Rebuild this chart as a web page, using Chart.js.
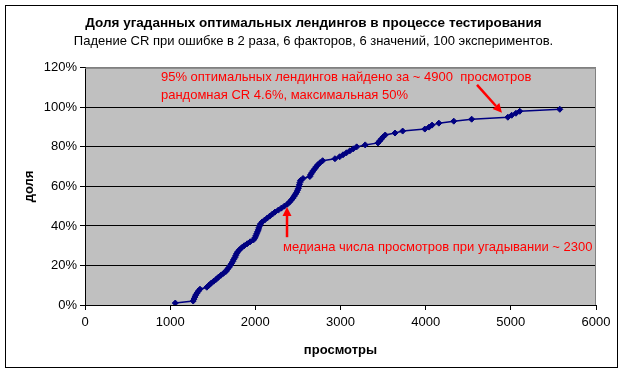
<!DOCTYPE html>
<html>
<head>
<meta charset="utf-8">
<script src="https://cdn.jsdelivr.net/npm/chart.js@4"></script>
<style>
    body { margin: 0; background: #fff; }
    #wrap { width: 627px; height: 375px; }
</style>
</head>
<body>
<div id="wrap"><canvas id="chart" width="627" height="375"></canvas></div>
<script>
// число просмотров, при котором угадан оптимальный лендинг (по экспериментам)
const views = [
    1060, 1270, 1280, 1290, 1300, 1315, 1330, 1350, 1430, 1455,
    1480, 1510, 1540, 1565, 1595, 1625, 1655, 1670, 1690, 1705,
    1720, 1735, 1745, 1760, 1770, 1780, 1795, 1815, 1840, 1870,
    1905, 1940, 1980, 1995, 2005, 2015, 2025, 2035, 2040, 2050,
    2060, 2080, 2110, 2140, 2170, 2200, 2230, 2270, 2305, 2340,
    2375, 2400, 2420, 2440, 2455, 2470, 2485, 2495, 2505, 2512,
    2518, 2524, 2530, 2560, 2640, 2650, 2665, 2680, 2700, 2715,
    2735, 2760, 2790, 2935, 2990, 3030, 3070, 3110, 3150, 3190,
    3290, 3440, 3460, 3480, 3500, 3525, 3640, 3730, 3990, 4040,
    4075, 4155, 4330, 4540, 4965, 5010, 5060, 5105, 5575
];
// доля угаданных, %
const share = [
    1, 2, 3, 4, 5, 6, 7, 8, 9, 10,
    11, 12, 13, 14, 15, 16, 17, 18, 19, 20,
    21, 22, 23, 24, 25, 26, 27, 28, 29, 30,
    31, 32, 33, 34, 35, 36, 37, 38, 39, 40,
    41, 42, 43, 44, 45, 46, 47, 48, 49, 50,
    51, 52, 53, 54, 55, 56, 57, 58, 59, 60,
    61, 62, 63, 64, 65, 66, 67, 68, 69, 70,
    71, 72, 73, 74, 75, 76, 77, 78, 79, 80,
    81, 82, 83, 84, 85, 86, 87, 88, 89, 90,
    91, 92, 93, 94, 95, 96, 97, 98, 99
];
const xTicks = [0, 1000, 2000, 3000, 4000, 5000, 6000];
const yTicks = [0, 20, 40, 60, 80, 100, 120];

const titleText = "Доля угаданных оптимальных лендингов в процессе тестирования";
const subtitleText = "Падение CR при ошибке в 2 раза, 6 факторов, 6 значений, 100 экспериментов.";

// подписи и стрелки (в единицах осей)
const notes = [
    { text: "95% оптимальных лендингов найдено за ~ 4900  просмотров", x: 892, y: 115 },
    { text: "рандомная CR 4.6%, максимальная 50%", x: 892, y: 105.9 },
    { text: "медиана числа просмотров при угадывании ~ 2300", x: 2325, y: 29.2 }
];
const arrows = [
    { from: [2372, 34.3], to: [2372, 49.6] },
    { from: [4603, 111.4], to: [4896, 97.3] }
];

const FONT = "'Liberation Sans', Arial, sans-serif";
Chart.defaults.font.family = FONT;
Chart.defaults.color = "#000";

var points = [];
for (let i = 0; i < views.length; i++) {
    points.push({ x: views[i], y: share[i] });
}

const excelLook = {
    id: "excelLook",
    beforeDraw(chart) {
        const ctx = chart.ctx;
        const a = chart.chartArea;
        ctx.save();
        ctx.fillStyle = "#fff";
        ctx.fillRect(0, 0, chart.width, chart.height);
        ctx.strokeStyle = "#000";
        ctx.lineWidth = 1;
        ctx.strokeRect(5.5, 5.5, 612, 362);
        ctx.fillStyle = "#c0c0c0";
        ctx.fillRect(a.left, a.top, a.right - a.left, a.bottom - a.top);
        ctx.restore();
    },
    beforeDatasetsDraw(chart) {
        const ctx = chart.ctx;
        const a = chart.chartArea;
        ctx.save();
        ctx.strokeStyle = "#808080";
        ctx.lineWidth = 1;
        ctx.beginPath();
        ctx.moveTo(a.left, a.top + 0.5);
        ctx.lineTo(a.right - 0.5, a.top + 0.5);
        ctx.lineTo(a.right - 0.5, a.bottom);
        ctx.stroke();
        ctx.restore();
    },
    afterDatasetsDraw(chart) {
        const ctx = chart.ctx;
        const xs = chart.scales.x;
        const ys = chart.scales.y;
        ctx.save();
        ctx.fillStyle = "#ff0000";
        ctx.strokeStyle = "#ff0000";
        ctx.font = "13px " + FONT;
        ctx.textBaseline = "middle";
        ctx.textAlign = "left";
        notes.forEach((n) => {
            ctx.fillText(n.text, xs.getPixelForValue(n.x), ys.getPixelForValue(n.y));
        });
        arrows.forEach((ar) => {
            const x1 = xs.getPixelForValue(ar.from[0]);
            const y1 = ys.getPixelForValue(ar.from[1]);
            const x2 = xs.getPixelForValue(ar.to[0]);
            const y2 = ys.getPixelForValue(ar.to[1]);
            const ang = Math.atan2(y2 - y1, x2 - x1);
            const headLen = 9;
            const headW = 4.5;
            const bx = x2 - headLen * Math.cos(ang);
            const by = y2 - headLen * Math.sin(ang);
            ctx.lineWidth = 2.5;
            ctx.beginPath();
            ctx.moveTo(x1, y1);
            ctx.lineTo(bx, by);
            ctx.stroke();
            ctx.beginPath();
            ctx.moveTo(x2, y2);
            ctx.lineTo(bx - headW * Math.sin(ang), by + headW * Math.cos(ang));
            ctx.lineTo(bx + headW * Math.sin(ang), by - headW * Math.cos(ang));
            ctx.closePath();
            ctx.fill();
        });
        ctx.restore();
    }
};

new Chart("chart", {
    type: "line",
    data: {
        datasets: [
            {
                label: "доля",
                data: points,
                borderColor: "#000080",
                backgroundColor: "#000080",
                borderWidth: 1.5,
                pointStyle: "rectRot",
                pointRadius: 3,
                pointBorderWidth: 1,
                tension: 0,
                fill: false,
            },
        ],
    },
    options: {
        responsive: false,
        animation: false,
        layout: {
            padding: 0,
        },
        plugins: {
            legend: { display: false },
            tooltip: { enabled: false },
            title: {
                display: true,
                text: titleText,
                font: { size: 13.5, weight: "bold" },
                color: "#000",
                padding: { top: 15, bottom: 1 },
            },
            subtitle: {
                display: true,
                text: subtitleText,
                font: { size: 13 },
                color: "#000",
                padding: { top: 1, bottom: 19 },
            },
        },
        scales: {
            x: {
                type: "linear",
                min: 0,
                max: 6000,
                afterBuildTicks: (s) => { s.ticks = xTicks.map((v) => ({ value: v })); },
                afterFit: (s) => { s.height = 70; },
                ticks: {
                    font: { size: 13 },
                    color: "#000",
                    padding: 5,
                    maxRotation: 0,
                    callback: (v) => String(v),
                },
                grid: {
                    drawOnChartArea: false,
                    tickLength: 5,
                    tickColor: "#000",
                },
                border: { color: "#000", width: 1 },
                title: {
                    display: true,
                    text: "просмотры",
                    font: { size: 13, weight: "bold" },
                    color: "#000",
                    padding: { top: 0, bottom: 17 },
                },
            },
            y: {
                min: 0,
                max: 120,
                afterBuildTicks: (s) => { s.ticks = yTicks.map((v) => ({ value: v })); },
                afterFit: (s) => { s.width = 85; },
                ticks: {
                    font: { size: 13 },
                    color: "#000",
                    padding: 3,
                    callback: (v) => v + "%",
                },
                grid: {
                    color: (c) => (c.tick && c.tick.value == 120 ? "#808080" : "#000"),
                    tickLength: 5,
                    tickColor: "#000",
                },
                border: { color: "#000", width: 1 },
                title: {
                    display: true,
                    text: "доля",
                    font: { size: 13, weight: "bold" },
                    color: "#000",
                    padding: { top: 22, bottom: 0 },
                },
            },
            // пустая правая ось — место справа от области построения
            yRight: {
                position: "right",
                min: 0,
                max: 120,
                ticks: { display: false },
                grid: { display: false },
                border: { display: false },
                afterFit: (s) => { s.width = 31; },
            },
        },
    },
    plugins: [excelLook],
});
</script>
</body>
</html>
